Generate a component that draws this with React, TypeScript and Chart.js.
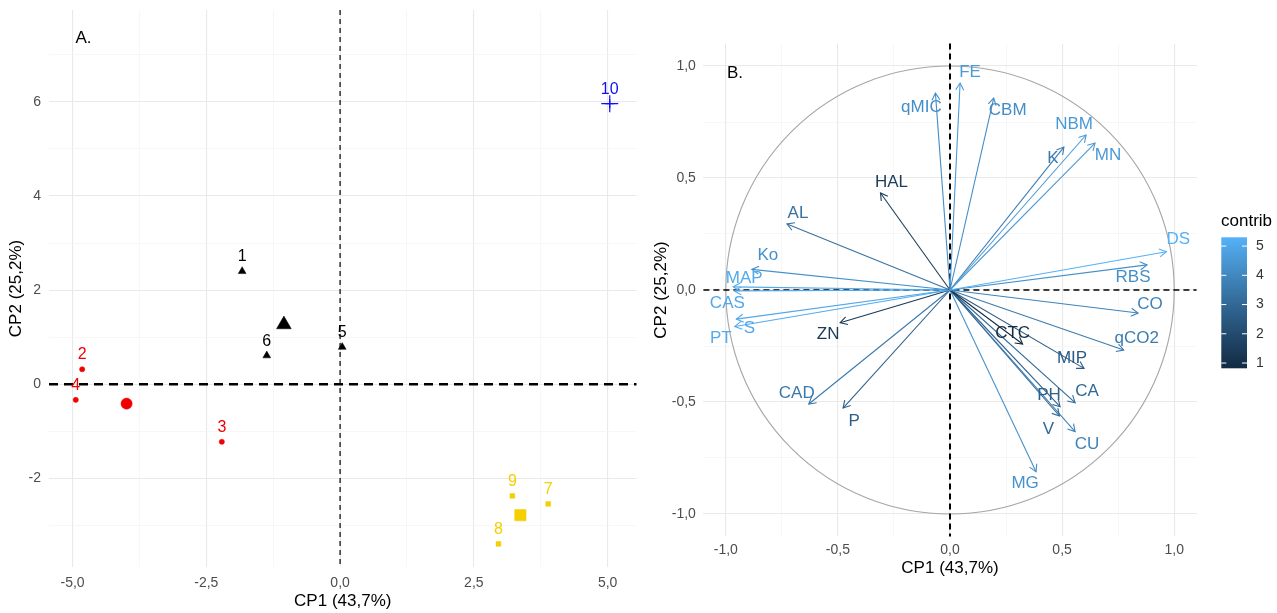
import React, { useEffect, useRef } from 'react';
import { Chart, registerables } from 'chart.js';

Chart.register(...registerables);

const FONT = "'Liberation Sans', Arial, sans-serif";

// ---------------- Panel A: individuals ----------------
const indIds = ['1', '2', '3', '4', '5', '6', '7', '8', '9', '10'];
const indX = [-1.83, -4.82, -2.21, -4.94, 0.04, -1.37, 3.89, 2.96, 3.22, 5.04];
const indY = [2.4, 0.32, -1.22, -0.33, 0.79, 0.61, -2.54, -3.39, -2.37, 5.96];
const indGroup = [0, 1, 1, 1, 0, 0, 2, 2, 2, 3];
const groupColors = ['#000000', '#f00000', '#f5cf00', '#1010f0'];
const groupShapes = ['triangle', 'circle', 'rect', 'cross'];
const centroidX = [-1.05, -3.99, 3.37, 5.04];
const centroidY = [1.27, -0.41, -2.78, 5.96];

const aXMajor = [-5, -2.5, 0, 2.5, 5];
const aXMinor = [-3.75, -1.25, 1.25, 3.75];
const aYMajor = [-2, 0, 2, 4, 6];
const aYMinor = [-3, -1, 1, 3, 5, 7];

// ---------------- Panel B: variables ----------------
const varNames = ['FE', 'qMIC', 'CBM', 'NBM', 'MN', 'K', 'HAL', 'AL', 'Ko', 'MAP', 'CAS', 'S', 'PT', 'DS', 'RBS', 'CO', 'qCO2', 'ZN', 'CAD', 'P', 'CTC', 'MIP', 'CA', 'PH', 'V', 'CU', 'MG'];
const varX = [0.045, -0.065, 0.195, 0.607, 0.647, 0.508, -0.31, -0.727, -0.884, -0.967, -0.962, -0.953, -0.96, 0.965, 0.879, 0.839, 0.775, -0.49, -0.63, -0.477, 0.324, 0.598, 0.558, 0.491, 0.488, 0.558, 0.384];
const varY = [0.924, 0.879, 0.857, 0.692, 0.656, 0.638, 0.433, 0.295, 0.092, 0.014, -0.004, -0.13, -0.163, 0.171, 0.112, -0.103, -0.268, -0.146, -0.509, -0.527, -0.241, -0.35, -0.503, -0.521, -0.5625, -0.632, -0.811];
const varContrib = [4.62, 4.19, 4.16, 4.57, 4.58, 3.59, 1.52, 3.32, 4.27, 5.05, 5.0, 4.99, 5.12, 5.3, 4.24, 3.86, 3.63, 1.41, 3.54, 2.73, 0.82, 2.59, 3.04, 2.76, 2.99, 3.83, 4.34];
// label nudges (pixels) relative to arrow tips
const varLabelDx = [10, -14, 14, -12, 13, -11, 11, 11, 16, 11, -7, 13, -14, 12, -14, 12, 13, -12, -12, 11, -10, -12, 12, -11, -11, 12, -11];
const varLabelDy = [-11, 14, 12, -11, 12, 11, -11, -11, -14, -9, 12, 9, 12, -12, 12, -9, -12, 12, -11, 13, -11, -10, -11, -11, 13, 13, 12];

const bMajor = [-1, -0.5, 0, 0.5, 1];
const bMinor = [-0.75, -0.25, 0.25, 0.75];
const legendBreaks = [1, 2, 3, 4, 5];

// ---------------- colour gradient (Lab, like ggplot) ----------------
const LOW = '#132B43';
const HIGH = '#56B1F7';
const lin = (c: number) => { c /= 255; return c <= 0.04045 ? c / 12.92 : Math.pow((c + 0.055) / 1.055, 2.4); };
const delin = (c: number) => {
  const v = c <= 0.0031308 ? 12.92 * c : 1.055 * Math.pow(c, 1 / 2.4) - 0.055;
  return Math.round(Math.max(0, Math.min(1, v)) * 255);
};
function hexToLab(hex: string) {
  const R = lin(parseInt(hex.slice(1, 3), 16));
  const G = lin(parseInt(hex.slice(3, 5), 16));
  const B = lin(parseInt(hex.slice(5, 7), 16));
  const X = (0.4124564 * R + 0.3575761 * G + 0.1804375 * B) / 0.95047;
  const Y = 0.2126729 * R + 0.7151522 * G + 0.072175 * B;
  const Z = (0.0193339 * R + 0.119192 * G + 0.9503041 * B) / 1.08883;
  const f = (t: number) => (t > 216 / 24389 ? Math.cbrt(t) : ((24389 / 27) * t + 16) / 116);
  const fx = f(X), fy = f(Y), fz = f(Z);
  return [116 * fy - 16, 500 * (fx - fy), 200 * (fy - fz)];
}
function labToRgb(L: number, a: number, b: number) {
  const fy = (L + 16) / 116, fx = fy + a / 500, fz = fy - b / 200;
  const finv = (t: number) => (t * t * t > 216 / 24389 ? t * t * t : (116 * t - 16) / (24389 / 27));
  const X = finv(fx) * 0.95047, Y = finv(fy), Z = finv(fz) * 1.08883;
  const R = 3.2404542 * X - 1.5371385 * Y - 0.4985314 * Z;
  const G = -0.969266 * X + 1.8760108 * Y + 0.041556 * Z;
  const B = 0.0556434 * X - 0.2040259 * Y + 1.0572252 * Z;
  return `rgb(${delin(R)},${delin(G)},${delin(B)})`;
}
const labLow = hexToLab(LOW);
const labHigh = hexToLab(HIGH);
const cMin = Math.min(...varContrib);
const cMax = Math.max(...varContrib);
function contribColor(v: number) {
  const t = Math.max(0, Math.min(1, (v - cMin) / (cMax - cMin)));
  return labToRgb(
    labLow[0] + (labHigh[0] - labLow[0]) * t,
    labLow[1] + (labHigh[1] - labLow[1]) * t,
    labLow[2] + (labHigh[2] - labLow[2]) * t,
  );
}

const isIn = (arr: number[], v: number) => arr.some((m) => Math.abs(m - v) < 1e-9);
const comma1 = (v: number) => v.toFixed(1).replace('.', ',');

function gridOpts(major: number[]) {
  return {
    color: (ctx: any) => (ctx.tick && isIn(major, ctx.tick.value) ? '#e9e9e9' : '#f3f3f3'),
    lineWidth: (ctx: any) => (ctx.tick && isIn(major, ctx.tick.value) ? 1.1 : 0.7),
    drawTicks: false,
  };
}

function fixSize(dim: 'width' | 'height', size: number) {
  return (s: any) => {
    s[dim] = size;
    s.paddingLeft = 0;
    s.paddingRight = 0;
    s.paddingTop = 0;
    s.paddingBottom = 0;
  };
}

function PanelA() {
  const ref = useRef<HTMLCanvasElement | null>(null);
  useEffect(() => {
    const canvas = ref.current!;
    const datasets: any[] = [];
    groupColors.forEach((col, g) => {
      const pts = indIds.map((_, i) => i).filter((i) => indGroup[i] === g).map((i) => ({ x: indX[i], y: indY[i] }));
      const shape = groupShapes[g];
      const small = shape === 'circle' ? 2.6 : shape === 'triangle' ? 4.5 : shape === 'rect' ? 3.4 : 4.5;
      const big = shape === 'circle' ? 5.6 : shape === 'triangle' ? 8.5 : shape === 'rect' ? 8 : 8.5;
      datasets.push({
        data: pts, pointStyle: shape, pointRadius: small, backgroundColor: col, borderColor: col,
        borderWidth: shape === 'cross' ? 1.2 : 0.5, showLine: false,
      });
      datasets.push({
        data: [{ x: centroidX[g], y: centroidY[g] }], pointStyle: shape, pointRadius: big, backgroundColor: col,
        borderColor: col, borderWidth: shape === 'cross' ? 1.2 : 0.5, showLine: false,
      });
    });
    const plugin = {
      id: 'panelA',
      beforeDatasetsDraw(chart: any) {
        const { ctx, chartArea: ca, scales } = chart;
        const x0 = scales.x.getPixelForValue(0);
        const y0 = scales.y.getPixelForValue(0);
        ctx.save();
        ctx.strokeStyle = '#000';
        ctx.lineWidth = 1.2;
        ctx.setLineDash([5, 4]);
        ctx.beginPath(); ctx.moveTo(x0, ca.top); ctx.lineTo(x0, ca.bottom); ctx.stroke();
        ctx.lineWidth = 2.5;
        ctx.setLineDash([9, 6]);
        ctx.beginPath(); ctx.moveTo(ca.left, y0); ctx.lineTo(ca.right, y0); ctx.stroke();
        ctx.restore();
      },
      afterDatasetsDraw(chart: any) {
        const { ctx, scales } = chart;
        ctx.save();
        ctx.font = `16px ${FONT}`;
        ctx.textAlign = 'center';
        ctx.textBaseline = 'middle';
        indIds.forEach((id, i) => {
          ctx.fillStyle = groupColors[indGroup[i]];
          ctx.fillText(id, scales.x.getPixelForValue(indX[i]), scales.y.getPixelForValue(indY[i]) - 14.5);
        });
        ctx.fillStyle = '#000';
        ctx.font = `17px ${FONT}`;
        ctx.textAlign = 'left';
        ctx.fillText('A.', 75.5, 38);
        ctx.restore();
      },
    };
    const chart = new Chart(canvas, {
      type: 'scatter',
      data: { datasets },
      options: {
        responsive: false, animation: false, events: [],
        layout: { autoPadding: false, padding: { left: 0, right: 3.5, top: 10, bottom: 0 } },
        plugins: { legend: { display: false }, tooltip: { enabled: false } },
        scales: {
          x: {
            type: 'linear', min: -5.44, max: 5.54,
            afterBuildTicks: (s: any) => { s.ticks = [...aXMajor, ...aXMinor].sort((a, b) => a - b).map((v) => ({ value: v })); },
            afterFit: fixSize('height', 46),
            ticks: { autoSkip: false, maxRotation: 0, padding: 7.9, color: '#4d4d4d', font: { family: FONT, size: 14 },
              callback: (v: any) => (isIn(aXMajor, Number(v)) ? comma1(Number(v)) : '') },
            grid: gridOpts(aXMajor), border: { display: false },
            title: { display: true, text: 'CP1 (43,7%)', color: '#000', font: { family: FONT, size: 17 }, padding: { top: 0, bottom: 1 } },
          },
          y: {
            type: 'linear', min: -3.88, max: 7.95,
            afterBuildTicks: (s: any) => { s.ticks = [...aYMajor, ...aYMinor].sort((a, b) => a - b).map((v) => ({ value: v })); },
            afterFit: fixSize('width', 49),
            ticks: { autoSkip: false, padding: 8, color: '#4d4d4d', font: { family: FONT, size: 14 },
              callback: (v: any) => (isIn(aYMajor, Number(v)) ? String(v) : '') },
            grid: gridOpts(aYMajor), border: { display: false },
            title: { display: true, text: 'CP2 (25,2%)', color: '#000', font: { family: FONT, size: 17 }, padding: { top: 6, bottom: 0 } },
          },
        },
      },
      plugins: [plugin],
    } as any);
    return () => chart.destroy();
  }, []);
  return <canvas ref={ref} width={640} height={613} style={{ position: 'absolute', left: 0, top: 0, width: 640, height: 613 }} />;
}

function PanelB() {
  const ref = useRef<HTMLCanvasElement | null>(null);
  useEffect(() => {
    const canvas = ref.current!;
    const datasets = varNames.map((_, i) => ({
      data: [{ x: 0, y: 0 }, { x: varX[i], y: varY[i] }],
      showLine: true, borderColor: contribColor(varContrib[i]), borderWidth: 1.1, pointRadius: 0,
    }));
    const plugin = {
      id: 'panelB',
      beforeDatasetsDraw(chart: any) {
        const { ctx, chartArea: ca, scales } = chart;
        const x0 = scales.x.getPixelForValue(0);
        const y0 = scales.y.getPixelForValue(0);
        const rx = scales.x.getPixelForValue(1) - x0;
        const ry = y0 - scales.y.getPixelForValue(1);
        ctx.save();
        ctx.strokeStyle = '#a6a6a6';
        ctx.lineWidth = 1.1;
        ctx.beginPath(); ctx.ellipse(x0, y0, rx, ry, 0, 0, Math.PI * 2); ctx.stroke();
        ctx.strokeStyle = '#000';
        ctx.lineWidth = 2;
        ctx.setLineDash([6, 4]);
        ctx.beginPath(); ctx.moveTo(x0, ca.top); ctx.lineTo(x0, ca.bottom); ctx.stroke();
        ctx.lineWidth = 1.4;
        ctx.beginPath(); ctx.moveTo(ca.left, y0); ctx.lineTo(ca.right, y0); ctx.stroke();
        ctx.restore();
      },
      afterDatasetsDraw(chart: any) {
        const { ctx, scales } = chart;
        const x0 = scales.x.getPixelForValue(0);
        const y0 = scales.y.getPixelForValue(0);
        ctx.save();
        ctx.lineWidth = 1.1;
        ctx.font = `17px ${FONT}`;
        ctx.textAlign = 'center';
        ctx.textBaseline = 'middle';
        varNames.forEach((name, i) => {
          const col = contribColor(varContrib[i]);
          const tx = scales.x.getPixelForValue(varX[i]);
          const ty = scales.y.getPixelForValue(varY[i]);
          const ang = Math.atan2(ty - y0, tx - x0);
          const L = 8;
          ctx.strokeStyle = col;
          ctx.beginPath();
          ctx.moveTo(tx - L * Math.cos(ang - Math.PI / 6), ty - L * Math.sin(ang - Math.PI / 6));
          ctx.lineTo(tx, ty);
          ctx.lineTo(tx - L * Math.cos(ang + Math.PI / 6), ty - L * Math.sin(ang + Math.PI / 6));
          ctx.stroke();
          ctx.fillStyle = col;
          ctx.fillText(name, tx + varLabelDx[i], ty + varLabelDy[i]);
        });
        ctx.fillStyle = '#000';
        ctx.textAlign = 'left';
        ctx.fillText('B.', 87, 73.5);
        ctx.restore();
      },
      afterDraw(chart: any) {
        const { ctx } = chart;
        const left = 581.3, right = 607, top = 237.3, bottom = 368.3;
        const grad = ctx.createLinearGradient(0, bottom, 0, top);
        for (let k = 0; k <= 20; k++) {
          const v = cMin + ((cMax - cMin) * k) / 20;
          grad.addColorStop(k / 20, contribColor(v));
        }
        ctx.save();
        ctx.fillStyle = grad;
        ctx.fillRect(left, top, right - left, bottom - top);
        ctx.strokeStyle = '#ffffff';
        ctx.lineWidth = 1;
        ctx.font = `14px ${FONT}`;
        ctx.textAlign = 'left';
        ctx.textBaseline = 'middle';
        legendBreaks.forEach((b) => {
          const y = bottom - ((b - cMin) / (cMax - cMin)) * (bottom - top);
          ctx.beginPath();
          ctx.moveTo(left, y); ctx.lineTo(left + 5, y);
          ctx.moveTo(right - 5, y); ctx.lineTo(right, y);
          ctx.stroke();
          ctx.fillStyle = '#333333';
          ctx.fillText(String(b), 616, y);
        });
        ctx.fillStyle = '#000';
        ctx.font = `17px ${FONT}`;
        ctx.fillText('contrib', 581, 221.7);
        ctx.restore();
      },
    };
    const chart = new Chart(canvas, {
      type: 'scatter',
      data: { datasets },
      options: {
        responsive: false, animation: false, events: [],
        layout: { autoPadding: false, padding: { left: 0, right: 80.4, top: 43.6, bottom: 0 } },
        plugins: { legend: { display: false }, tooltip: { enabled: false } },
        scales: {
          x: {
            type: 'linear', min: -1.1, max: 1.1,
            afterBuildTicks: (s: any) => { s.ticks = [...bMajor, ...bMinor].sort((a, b) => a - b).map((v) => ({ value: v })); },
            afterFit: fixSize('height', 76.6),
            ticks: { autoSkip: false, maxRotation: 0, padding: 5.2, color: '#4d4d4d', font: { family: FONT, size: 14 },
              callback: (v: any) => (isIn(bMajor, Number(v)) ? comma1(Number(v)) : '') },
            grid: gridOpts(bMajor), border: { display: false },
            title: { display: true, text: 'CP1 (43,7%)', color: '#000', font: { family: FONT, size: 17 }, padding: { top: 0, bottom: 34.5 } },
          },
          y: {
            type: 'linear', min: -1.1, max: 1.1,
            afterBuildTicks: (s: any) => { s.ticks = [...bMajor, ...bMinor].sort((a, b) => a - b).map((v) => ({ value: v })); },
            afterFit: fixSize('width', 63.4),
            ticks: { autoSkip: false, padding: 7.5, color: '#4d4d4d', font: { family: FONT, size: 14 },
              callback: (v: any) => (isIn(bMajor, Number(v)) ? comma1(Number(v)) : '') },
            grid: gridOpts(bMajor), border: { display: false },
            title: { display: true, text: 'CP2 (25,2%)', color: '#000', font: { family: FONT, size: 17 }, padding: { top: 10.8, bottom: 0 } },
          },
        },
      },
      plugins: [plugin],
    } as any);
    return () => chart.destroy();
  }, []);
  return <canvas ref={ref} width={637} height={613} style={{ position: 'absolute', left: 640, top: 0, width: 637, height: 613 }} />;
}

export default function App() {
  return (
    <div style={{ position: 'absolute', left: 0, top: 0, width: 1277, height: 613, background: '#ffffff', overflow: 'hidden' }}>
      <PanelA />
      <PanelB />
    </div>
  );
}
